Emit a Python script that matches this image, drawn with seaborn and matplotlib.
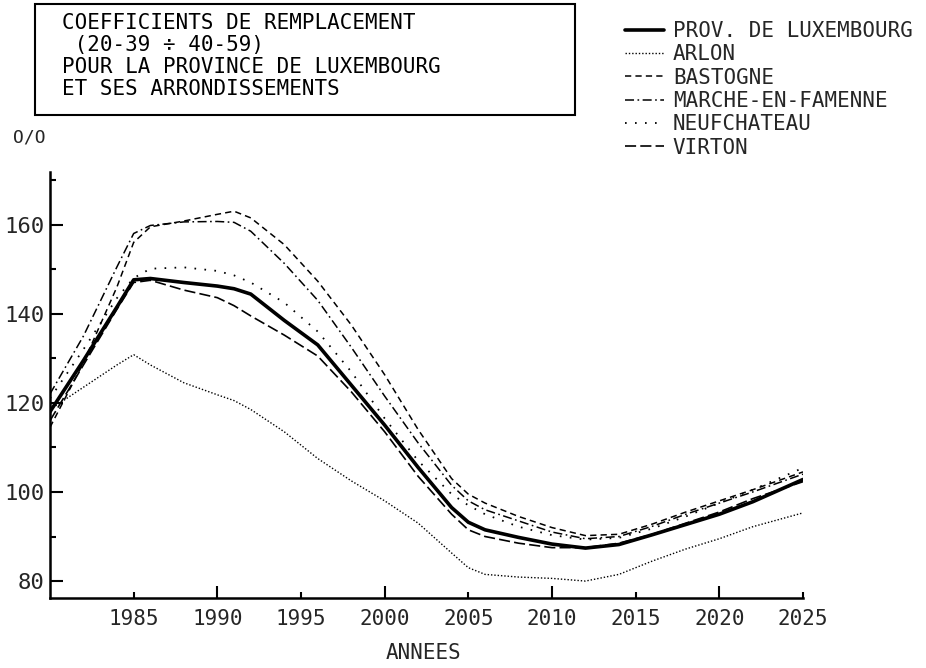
import matplotlib
matplotlib.use("Agg")
import matplotlib.pyplot as plt
from matplotlib.patches import Rectangle
import seaborn as sns
import pandas as pd

# ---------------- data ----------------
years = [1980, 1982, 1984, 1985, 1986, 1988, 1990, 1991, 1992, 1994, 1996, 1998,
         2000, 2002, 2004, 2005, 2006, 2008, 2010, 2012, 2014, 2016, 2018, 2020,
         2022, 2025]

prov = [118.0, 129.5, 141.5, 147.6, 147.9, 147.0, 146.2, 145.6, 144.4, 138.5, 133.0, 124.0,
        115.0, 105.5, 96.5, 93.2, 91.5, 89.8, 88.3, 87.4, 88.2, 90.4, 92.7, 95.0,
        97.8, 102.8]
arlon = [118.5, 123.5, 128.5, 130.8, 128.5, 124.5, 121.8, 120.5, 118.5, 113.5, 107.5, 102.5,
         98.0, 93.0, 86.3, 83.0, 81.5, 80.9, 80.6, 80.0, 81.5, 84.5, 87.2, 89.5,
         92.2, 95.3]
bastogne = [114.5, 129.0, 146.0, 156.0, 159.5, 160.8, 162.3, 163.0, 161.5, 155.5, 147.3, 137.5,
            126.3, 114.0, 103.0, 99.5, 97.5, 94.5, 92.0, 90.2, 90.5, 92.8, 95.5, 98.0,
            100.5, 104.5]
marche = [122.0, 135.0, 150.5, 158.0, 159.8, 160.6, 160.7, 160.5, 158.5, 151.3, 143.0, 132.5,
          121.5, 111.0, 101.5, 98.0, 96.0, 93.5, 91.0, 89.5, 90.0, 92.3, 95.0, 97.5,
          100.0, 104.0]
neufchateau = [121.0, 132.0, 143.5, 148.0, 150.1, 150.4, 149.6, 148.6, 147.0, 142.5, 136.0, 127.0,
               116.5, 107.0, 99.5, 97.0, 95.0, 92.2, 90.3, 89.3, 89.7, 91.8, 94.5, 97.5,
               100.5, 105.4]
virton = [116.0, 128.5, 141.0, 147.0, 147.5, 145.3, 143.6, 141.8, 139.5, 135.2, 130.5, 122.5,
          113.5, 103.5, 95.0, 91.5, 90.0, 88.5, 87.5, 87.5, 88.5, 90.5, 93.0, 95.5,
          98.5, 102.3]

series_names = ["PROV. DE LUXEMBOURG", "ARLON", "BASTOGNE", "MARCHE-EN-FAMENNE",
                "NEUFCHATEAU", "VIRTON"]
series_values = [prov, arlon, bastogne, marche, neufchateau, virton]

x_major = [1990, 2000, 2010, 2020]
x_minor = [1985, 1995, 2005, 2015, 2025]
y_major = [80, 100, 120, 140, 160]
y_minor = [90, 110, 130, 150, 170]

title_lines = ["COEFFICIENTS DE REMPLACEMENT", " (20-39 \u00f7 40-59)",
               "POUR LA PROVINCE DE LUXEMBOURG", "ET SES ARRONDISSEMENTS"]
y_unit = "O/O"
x_title = "ANNEES"

# ---------------- styling ----------------
sns.set_style("ticks")
plt.rcParams["font.family"] = ["DejaVu Sans Mono", "DejaVu Sans"]
plt.rcParams["lines.scale_dashes"] = False

styles = {
    "PROV. DE LUXEMBOURG": dict(lw=2.6, ls="-"),
    "ARLON": dict(lw=1.0, ls=(0, (1.0, 1.4))),
    "BASTOGNE": dict(lw=1.1, ls=(0, (4.5, 3.0))),
    "MARCHE-EN-FAMENNE": dict(lw=1.1, ls=(0, (6.5, 2.5, 1.2, 2.5))),
    "NEUFCHATEAU": dict(lw=1.3, ls=(0, (1.2, 6.0))),
    "VIRTON": dict(lw=1.2, ls=(0, (8.0, 3.0))),
}

W, H = 926, 668
fig = plt.figure(figsize=(W / 100, H / 100), dpi=100)
ax = fig.add_axes([50 / W, 1 - 598 / H, (803 - 50) / W, (598 - 172) / H])

df = pd.DataFrame({"year": years})
for name, vals in zip(series_names, series_values):
    df[name] = vals

for name in series_names:
    st = styles[name]
    sns.lineplot(data=df, x="year", y=name, ax=ax, color="black",
                 linewidth=st["lw"], linestyle=st["ls"], label=name)

ax.set_xlim(1980, 2025)
ax.set_ylim(76.2, 171.8)
sns.despine(ax=ax)
for sp in ("left", "bottom"):
    ax.spines[sp].set_linewidth(1.8)
    ax.spines[sp].set_color("black")

ax.set_xticks(x_major)
ax.set_xticks(x_minor, minor=True)
ax.set_xticklabels([str(v) for v in x_major])
ax.set_xticklabels([str(v) for v in x_minor], minor=True)
ax.set_yticks(y_major)
ax.set_yticks(y_minor, minor=True)
ax.set_yticklabels([str(v) for v in y_major])

ax.tick_params(which="major", direction="in", length=9, width=1.5, color="black",
               labelsize=15, pad=8)
ax.tick_params(which="minor", direction="in", length=4.5, width=1.5, color="black",
               labelsize=15, pad=8)
ax.tick_params(axis="y", which="both", pad=4, labelsize=16)
ax.set_xlabel("")
ax.set_ylabel("")

handles, labels = ax.get_legend_handles_labels()
ax.get_legend().remove()
fig.legend(handles, labels, loc="upper left", bbox_to_anchor=(625 / W, 1 - 21 / H),
           frameon=False, fontsize=15, handlelength=1.85, handletextpad=0.45,
           labelspacing=0.16, borderpad=0, borderaxespad=0)

# title box
fig.patches.append(Rectangle((35 / W, 1 - 115 / H), (575 - 35) / W, (115 - 4) / H,
                             transform=fig.transFigure, fill=False, lw=1.5,
                             edgecolor="black"))
for i, line in enumerate(title_lines):
    fig.text(62 / W, 1 - (23 + 22 * i) / H, line, fontsize=15, va="center",
             ha="left", color="black")

fig.text(13 / W, 1 - 138 / H, y_unit, fontsize=13, va="center", ha="left")
fig.text(423 / W, 1 - 653 / H, x_title, fontsize=15, va="center", ha="center")

fig.savefig("out.png", dpi=100, facecolor="white")
